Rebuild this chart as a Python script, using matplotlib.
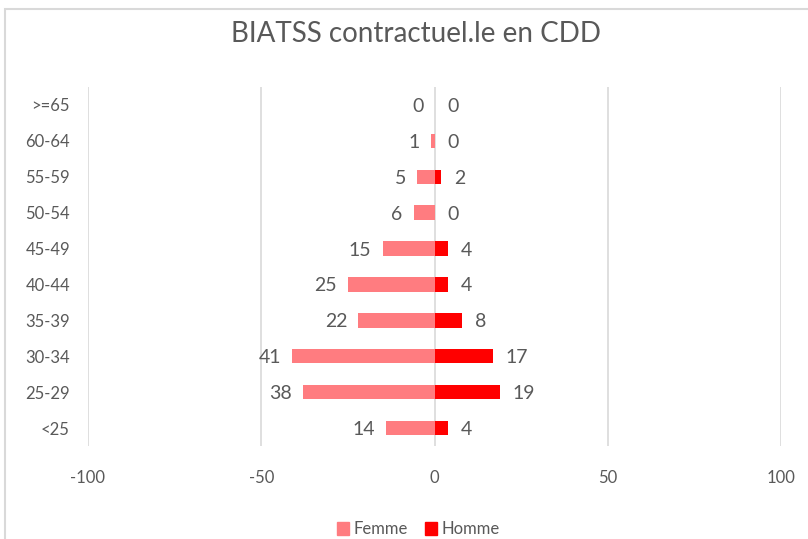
import matplotlib.pyplot as plt
from matplotlib.patches import Rectangle, Patch
import numpy as np

plt.rcParams['font.family'] = ['Lato', 'DejaVu Sans']
plt.rcParams['axes.unicode_minus'] = False

ages = ['<25', '25-29', '30-34', '35-39', '40-44', '45-49', '50-54', '55-59', '60-64', '>=65']
femme = [14, 38, 41, 22, 25, 15, 6, 5, 1, 0]
homme = [4, 19, 17, 8, 4, 4, 0, 2, 0, 0]

c_f = '#FF7C80'
c_h = '#FF0000'
txt = '#595959'

fig = plt.figure(figsize=(8.08, 5.39), dpi=100)
fig.patches.append(Rectangle((5 / 808, -0.1), 1.2, 1.1 - 9 / 539, transform=fig.transFigure,
                             fill=False, edgecolor='#D9D9D9', linewidth=1.5))
ax = fig.add_axes([0.1089, 0.1725, 0.8577, 0.6661])

y = np.arange(len(ages))
ax.barh(y, -np.array(femme), height=0.4, color=c_f, zorder=3)
ax.barh(y, homme, height=0.4, color=c_h, zorder=3)

for i in range(len(ages)):
    ax.annotate(str(femme[i]), (-femme[i], y[i]), xytext=(-8, 0), textcoords='offset points',
                ha='right', va='center_baseline', fontsize=14, color=txt)
    ax.annotate(str(homme[i]), (homme[i], y[i]), xytext=(9, 0), textcoords='offset points',
                ha='left', va='center_baseline', fontsize=14, color=txt)

ax.set_xlim(-100, 100)
ax.set_ylim(-0.5, len(ages) - 0.5)
ax.set_xticks([-100, -50, 0, 50, 100])
ax.set_yticks(y)
ax.set_yticklabels(ages)
ax.tick_params(axis='both', length=0, labelsize=12, colors=txt)
ax.tick_params(axis='x', pad=17)
ax.tick_params(axis='y', pad=13)
ax.grid(axis='x', color='#D9D9D9', linewidth=1.2, zorder=0)
for s in ax.spines.values():
    s.set_visible(False)

fig.text(0.515, 0.936, 'BIATSS contractuel.le en CDD', ha='center', va='center',
         fontsize=20, color=txt)

handles = [Patch(color=c_f, label='Femme'), Patch(color=c_h, label='Homme')]
fig.legend(handles=handles, loc='center', bbox_to_anchor=(0.518, 0.018), ncol=2, frameon=False,
           fontsize=12, labelcolor=txt, handlelength=0.7, handleheight=0.9, handletextpad=0.3,
           columnspacing=1.0)

fig.savefig('out.png', dpi=100)
